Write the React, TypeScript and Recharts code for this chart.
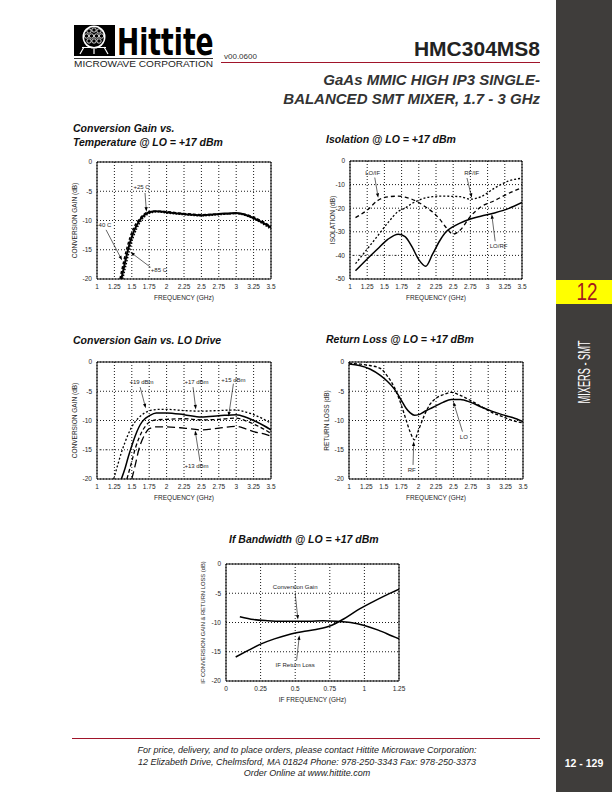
import {
  CartesianGrid,
  Line,
  LineChart,
  ReferenceArea,
  ReferenceDot,
  ReferenceLine,
  XAxis,
  YAxis,
} from "recharts";

const FONT = '"Liberation Sans", Arial, Helvetica, sans-serif';
const INK = "#1e1e1e";

// Conversion Gain vs. Temperature @ LO = +17 dBm
const T25_FREQ = [1.35, 1.4, 1.45, 1.5, 1.55, 1.6, 1.65, 1.7, 1.75, 1.85, 2.0, 2.25, 2.5, 2.75, 3.0, 3.15, 3.25, 3.4, 3.5];
const T25_GAIN = [-20, -17.3, -14.8, -12.8, -11.3, -10.2, -9.4, -8.9, -8.6, -8.4, -8.6, -8.9, -9.1, -8.9, -8.7, -9.1, -9.6, -10.5, -11.2];
const TM40_FREQ = [1.33, 1.38, 1.43, 1.48, 1.53, 1.6, 1.65, 1.7, 1.75, 1.85, 2.0, 2.25, 2.5, 2.75, 3.0, 3.15, 3.25, 3.4, 3.5];
const TM40_GAIN = [-20, -17.2, -14.7, -12.7, -11.2, -9.9, -9.2, -8.7, -8.5, -8.4, -8.5, -8.8, -9.0, -8.9, -8.8, -9.0, -9.4, -10.3, -11.0];
const T85_FREQ = [1.37, 1.42, 1.47, 1.52, 1.57, 1.62, 1.67, 1.72, 1.77, 1.87, 2.0, 2.25, 2.5, 2.75, 3.0, 3.15, 3.25, 3.4, 3.5];
const T85_GAIN = [-20, -17.4, -14.9, -12.9, -11.4, -10.3, -9.5, -9.0, -8.7, -8.5, -8.7, -9.0, -9.2, -9.0, -8.8, -9.2, -9.7, -10.7, -11.5];

// Isolation @ LO = +17 dBm
const ISO_FREQ = [1.08, 1.25, 1.4, 1.55, 1.7, 1.8, 1.9, 2.0, 2.1, 2.2, 2.3, 2.4, 2.5, 2.6, 2.75, 2.9, 3.1, 3.3, 3.5];
const ISO_LO_RF = [-46.5, -41.5, -37.3, -33.2, -31.0, -32.0, -36.3, -41.8, -44.6, -39.5, -34.0, -29.9, -27.8, -26.3, -24.6, -23.4, -22.0, -20.2, -17.6];
const ISO_LO_IF = [-24, -20.8, -16.8, -15.2, -14.9, -15.3, -16.2, -17.6, -19.5, -21.6, -24.5, -28.3, -31.0, -29.3, -23.5, -19.5, -16.8, -13.8, -11.3];
const ISO_RF_IF = [-43.5, -37.3, -31.8, -26.2, -21.4, -20.0, -18.0, -16.6, -15.6, -15.1, -14.9, -14.9, -15.0, -15.1, -16.2, -15.2, -11.5, -8.5, -7.3];

// Conversion Gain vs. LO Drive
const P19_FREQ = [1.24, 1.3, 1.35, 1.4, 1.45, 1.5, 1.55, 1.6, 1.65, 1.7, 1.8, 1.9, 2.0, 2.25, 2.5, 2.75, 3.0, 3.15, 3.25, 3.4, 3.5];
const P19_GAIN = [-20, -17.5, -15.5, -13.8, -12.3, -11.1, -10.2, -9.5, -9.0, -8.6, -8.2, -8.1, -8.1, -8.3, -8.4, -8.3, -8.2, -8.6, -9.0, -9.8, -10.5];
const P17_FREQ = [1.35, 1.4, 1.45, 1.5, 1.55, 1.6, 1.65, 1.7, 1.75, 1.85, 2.0, 2.25, 2.5, 2.75, 3.0, 3.15, 3.25, 3.4, 3.5];
const P17_GAIN = [-20, -18.3, -16.2, -14.3, -12.6, -11.2, -10.2, -9.6, -9.2, -8.7, -8.7, -9.0, -9.4, -9.2, -9.0, -9.5, -10.0, -10.9, -11.6];
const P15_FREQ = [1.43, 1.5, 1.55, 1.6, 1.65, 1.7, 1.75, 1.85, 2.0, 2.25, 2.5, 2.75, 3.0, 3.15, 3.25, 3.4, 3.5];
const P15_GAIN = [-20, -17.0, -14.8, -13.1, -11.8, -10.9, -10.3, -9.9, -9.8, -9.7, -9.9, -9.8, -9.6, -10.1, -10.6, -11.5, -12.2];
const P13_FREQ = [1.5, 1.55, 1.6, 1.65, 1.7, 1.75, 1.85, 2.0, 2.25, 2.5, 2.75, 3.0, 3.15, 3.25, 3.4, 3.5];
const P13_GAIN = [-20, -17.6, -15.0, -13.3, -12.1, -11.4, -11.1, -11.1, -11.3, -11.6, -11.3, -11.0, -11.5, -11.9, -12.3, -12.7];

// Return Loss @ LO = +17 dBm
const RL_FREQ = [1.0, 1.15, 1.3, 1.45, 1.55, 1.65, 1.75, 1.82, 1.88, 1.94, 2.0, 2.08, 2.16, 2.25, 2.35, 2.47, 2.6, 2.75, 2.9, 3.05, 3.2, 3.35, 3.5];
const RL_LO = [-0.35, -0.6, -1.2, -2.3, -3.3, -4.6, -6.5, -7.9, -8.7, -9.1, -9.0, -8.5, -8.0, -7.5, -6.9, -6.4, -6.4, -6.9, -7.7, -8.4, -9.0, -9.5, -10.2];
const RL_RF = [-0.2, -0.35, -0.6, -1.1, -2.4, -4.3, -7.3, -9.9, -12.0, -13.3, -11.6, -9.2, -7.3, -6.2, -5.6, -5.2, -5.7, -6.6, -7.6, -8.6, -9.3, -10.0, -10.4];

// IF Bandwidth @ LO = +17 dBm
const IF_CG_FREQ = [0.1, 0.2, 0.3, 0.4, 0.5, 0.6, 0.7, 0.8, 0.9, 1.0, 1.1, 1.2, 1.25];
const IF_CG = [-9.0, -9.5, -9.7, -9.8, -9.8, -9.8, -9.7, -9.8, -10.0, -10.5, -11.3, -12.3, -12.8];
const IF_RL_FREQ = [0.07, 0.15, 0.25, 0.35, 0.45, 0.55, 0.65, 0.75, 0.85, 0.95, 1.05, 1.15, 1.25];
const IF_RL = [-15.9, -14.9, -13.7, -12.8, -12.1, -11.6, -11.2, -10.6, -9.4, -7.9, -6.6, -5.4, -4.3];

const RF_TICKS = [1, 1.25, 1.5, 1.75, 2, 2.25, 2.5, 2.75, 3, 3.25, 3.5];
const IF_TICKS = [0, 0.25, 0.5, 0.75, 1, 1.25];
const GAIN_TICKS = [-20, -15, -10, -5, 0];
const ISO_TICKS = [-50, -40, -30, -20, -10, 0];

type Series = { name: string; xs: number[]; ys: number[]; dash?: string; width?: number };
type Note = { text: string; x: number; y: number };
type Pointer = { from: [number, number]; to: [number, number] };
type Guide = { x1: number; x2: number; y: number };

const pts = (xs: number[], ys: number[]) => xs.map((x, i) => ({ x, y: ys[i] }));

function ArrowShape(props: any) {
  const { x1, y1, x2, y2 } = props;
  if ([x1, y1, x2, y2].some((v) => typeof v !== "number" || Number.isNaN(v))) return <g />;
  const a = Math.atan2(y2 - y1, x2 - x1);
  const len = 4.5;
  const half = 1.6;
  const bx = x2 - len * Math.cos(a);
  const by = y2 - len * Math.sin(a);
  const p1 = `${bx + half * Math.sin(a)},${by - half * Math.cos(a)}`;
  const p2 = `${bx - half * Math.sin(a)},${by + half * Math.cos(a)}`;
  return (
    <g>
      <line x1={x1} y1={y1} x2={bx} y2={by} stroke="#000" strokeWidth={0.6} />
      <polygon points={`${x2},${y2} ${p1} ${p2}`} fill="#000" />
    </g>
  );
}

interface PanelProps {
  left: number;
  top: number;
  w: number;
  h: number;
  yAxisW: number;
  xDomain: [number, number];
  xTicks: number[];
  yDomain: [number, number];
  yTicks: number[];
  xLabel: string;
  yLabel: string;
  yLabelSize?: number;
  series: Series[];
  notes: Note[];
  pointers: Pointer[];
  guides?: Guide[];
}

const PAD_TOP = 5;
const PAD_RIGHT = 9;
const X_AXIS_H = 24;

function Panel(p: PanelProps) {
  return (
    <div style={{ position: "absolute", left: p.left - p.yAxisW, top: p.top - PAD_TOP, fontFamily: FONT }}>
      <LineChart
        width={p.yAxisW + p.w + PAD_RIGHT}
        height={PAD_TOP + p.h + X_AXIS_H}
        margin={{ top: PAD_TOP, right: PAD_RIGHT, bottom: 0, left: 0 }}
      >
        <CartesianGrid stroke="#000" strokeDasharray="1 2" strokeWidth={0.9} />
        <XAxis
          type="number"
          dataKey="x"
          domain={p.xDomain}
          ticks={p.xTicks}
          interval={0}
          allowDataOverflow
          axisLine={false}
          tickLine={false}
          tickSize={3}
          tickMargin={2}
          height={X_AXIS_H}
          tick={{ fontSize: 6.5, fill: INK }}
          label={{ value: p.xLabel, position: "insideBottom", offset: 3, fontSize: 6.5, fill: INK }}
        />
        <YAxis
          type="number"
          domain={p.yDomain}
          ticks={p.yTicks}
          interval={0}
          allowDataOverflow
          axisLine={false}
          tickLine={false}
          tickSize={3}
          tickMargin={2}
          width={p.yAxisW}
          tick={{ fontSize: 6.5, fill: INK }}
          label={{ value: p.yLabel, angle: -90, position: "center", fontSize: p.yLabelSize ?? 6.5, fill: INK }}
        />
        {(p.guides ?? []).map((g, i) => (
          <ReferenceLine
            key={`g${i}`}
            segment={[{ x: g.x1, y: g.y }, { x: g.x2, y: g.y }]}
            stroke="#9a9a9a"
            strokeDasharray="1 1"
          />
        ))}
        {p.series.map((s) => (
          <Line
            key={s.name}
            name={s.name}
            data={pts(s.xs, s.ys)}
            dataKey="y"
            type="monotone"
            stroke="#000"
            strokeWidth={s.width ?? 1.3}
            strokeDasharray={s.dash}
            dot={false}
            activeDot={false}
            isAnimationActive={false}
          />
        ))}
        <ReferenceArea
          x1={p.xDomain[0]}
          x2={p.xDomain[1]}
          y1={p.yDomain[0]}
          y2={p.yDomain[1]}
          fill="none"
          stroke="#000"
          strokeWidth={1}
        />
        {p.pointers.map((a, i) => (
          <ReferenceLine
            key={`a${i}`}
            segment={[{ x: a.from[0], y: a.from[1] }, { x: a.to[0], y: a.to[1] }]}
            shape={ArrowShape}
          />
        ))}
        {p.notes.map((n) => (
          <ReferenceDot
            key={n.text}
            x={n.x}
            y={n.y}
            r={0}
            shape={(d: any) => (
              <text x={d.cx} y={d.cy} textAnchor="middle" dominantBaseline="central" fontSize={6} fill={INK}>
                {n.text}
              </text>
            )}
          />
        ))}
      </LineChart>
    </div>
  );
}

const TITLE = { fontFamily: FONT, fontSize: 10.5, fontWeight: 700, fontStyle: "italic" as const, fill: "#111" };

function Page() {
  return (
    <svg width={612} height={792} style={{ position: "absolute", left: 0, top: 0 }} fontFamily={FONT}>
      <rect x={0} y={0} width={612} height={792} fill="#fff" />
      {/* logo */}
      <rect x={74} y={25} width={41} height={31} fill="#000" />
      <circle cx={94} cy={37} r={11.5} fill="#fff" />
      <circle cx={94} cy={37} r={10} fill="#000" />
      {[
        [89, 31], [94, 30], [99, 31], [86.5, 36], [91.5, 36], [96.5, 36], [101.5, 36], [89, 41], [94, 41], [99, 41],
      ].map(([cx, cy], i) => (
        <circle key={i} cx={cx} cy={cy} r={2.2} fill="none" stroke="#fff" strokeWidth={0.8} />
      ))}
      <path d="M84 47 L80 54 M104 47 L108 54 M94 48.5 L94 54 M82 47.5 L106 47.5" stroke="#fff" strokeWidth={1.2} fill="none" />
      <text
        x={0}
        y={0}
        transform="translate(117 55) scale(0.7 1)"
        fontFamily='"DejaVu Sans", sans-serif'
        fontWeight={700}
        fontSize={38}
        fill="#000"
      >
        Hittite
      </text>
      <line x1={74} y1={58.5} x2={213} y2={58.5} stroke="#000" strokeWidth={0.8} />
      <text x={74} y={67} fontSize={8.5} textLength={139} lengthAdjust="spacingAndGlyphs" fill="#222">
        MICROWAVE CORPORATION
      </text>
      {/* header */}
      <text x={224} y={59} fontSize={8} fill="#333">v00.0600</text>
      <text x={540} y={56} fontSize={21} fontWeight={700} textAnchor="end" fill="#222">HMC304MS8</text>
      <line x1={221} y1={62.5} x2={540} y2={62.5} stroke="#a0142a" strokeWidth={1.2} />
      <text x={540} y={84.5} fontSize={15} fontWeight={700} fontStyle="italic" textAnchor="end" fill="#333">
        GaAs MMIC HIGH IP3 SINGLE-
      </text>
      <text x={540} y={103.5} fontSize={15} fontWeight={700} fontStyle="italic" textAnchor="end" fill="#333">
        BALANCED SMT MIXER, 1.7 - 3 GHz
      </text>
      {/* chart titles */}
      <text x={73} y={132} {...TITLE}>Conversion Gain vs.</text>
      <text x={73} y={146} {...TITLE}>Temperature @ LO = +17 dBm</text>
      <text x={326} y={143} {...TITLE}>Isolation @ LO = +17 dBm</text>
      <text x={73} y={344} {...TITLE}>Conversion Gain vs. LO Drive</text>
      <text x={326} y={343} {...TITLE}>Return Loss @ LO = +17 dBm</text>
      <text x={229} y={543} {...TITLE}>If Bandwidth @ LO = +17 dBm</text>
      {/* side bar */}
      <rect x={556} y={0} width={56} height={792} fill="#3f3d3b" />
      <rect x={556} y={280} width={56} height={24} fill="#ffff00" />
      <text x={587} y={300} fontSize={23} textAnchor="middle" textLength={21} lengthAdjust="spacingAndGlyphs" fill="#a3181f">
        12
      </text>
      <text
        x={0}
        y={0}
        transform="translate(590 372) rotate(-90)"
        fontSize={17}
        textAnchor="middle"
        textLength={63}
        lengthAdjust="spacingAndGlyphs"
        fill="#fff"
      >
        MIXERS - SMT
      </text>
      <text x={584} y={767} fontSize={10.5} fontWeight={700} textAnchor="middle" fill="#fff">12 - 129</text>
      {/* footer */}
      <line x1={72} y1={738.5} x2={540} y2={738.5} stroke="#a0142a" strokeWidth={1.2} />
      <g fontSize={9} fontStyle="italic" textAnchor="middle" fill="#222">
        <text x={307} y={753}>For price, delivery, and to place orders, please contact Hittite Microwave Corporation:</text>
        <text x={307} y={765}>12 Elizabeth Drive, Chelmsford, MA 01824 Phone: 978-250-3343  Fax: 978-250-3373</text>
        <text x={307} y={776}>Order Online at www.hittite.com</text>
      </g>
    </svg>
  );
}

export default function App() {
  return (
    <div style={{ position: "absolute", left: 0, top: 0, width: 612, height: 792, overflow: "hidden", background: "#fff" }}>
      <Page />
      <Panel
        left={97}
        top={162}
        w={174}
        h={117}
        yAxisW={45}
        xDomain={[1, 3.5]}
        xTicks={RF_TICKS}
        yDomain={[-20, 0]}
        yTicks={GAIN_TICKS}
        xLabel="FREQUENCY (GHz)"
        yLabel="CONVERSION GAIN (dB)"
        series={[
          { name: "-40 C", xs: TM40_FREQ, ys: TM40_GAIN, dash: "3 2", width: 1.5 },
          { name: "+85 C", xs: T85_FREQ, ys: T85_GAIN, dash: "1.5 1.5", width: 1.5 },
          { name: "+25 C", xs: T25_FREQ, ys: T25_GAIN, width: 2 },
        ]}
        notes={[
          { text: "+25 C", x: 1.64, y: -4.3 },
          { text: "-40 C", x: 1.1, y: -10.8 },
          { text: "+85 C", x: 1.89, y: -18.4 },
        ]}
        pointers={[
          { from: [1.69, -5.3], to: [1.71, -8.5] },
          { from: [1.13, -11.6], to: [1.36, -16.8] },
          { from: [1.77, -18.0], to: [1.48, -15.4] },
        ]}
      />
      <Panel
        left={350}
        top={161}
        w={172}
        h={118}
        yAxisW={35}
        xDomain={[1, 3.5]}
        xTicks={RF_TICKS}
        yDomain={[-50, 0]}
        yTicks={ISO_TICKS}
        xLabel="FREQUENCY (GHz)"
        yLabel="ISOLATION (dB)"
        guides={[{ x1: 1, x2: 1.7, y: -40 }]}
        series={[
          { name: "LO/RF", xs: ISO_FREQ, ys: ISO_LO_RF, width: 1.5 },
          { name: "LO/IF", xs: ISO_FREQ, ys: ISO_LO_IF, dash: "4 3", width: 1.3 },
          { name: "RF/IF", xs: ISO_FREQ, ys: ISO_RF_IF, dash: "2 2", width: 1.3 },
        ]}
        notes={[
          { text: "LO/IF", x: 1.33, y: -5 },
          { text: "RF/IF", x: 2.77, y: -5 },
          { text: "LO/RF", x: 3.16, y: -36.2 },
        ]}
        pointers={[
          { from: [1.36, -7], to: [1.41, -15.6] },
          { from: [2.7, -7.2], to: [2.77, -15.6] },
          { from: [3.11, -34], to: [3.06, -22.6] },
        ]}
      />
      <Panel
        left={97}
        top={362}
        w={174}
        h={117}
        yAxisW={44}
        xDomain={[1, 3.5]}
        xTicks={RF_TICKS}
        yDomain={[-20, 0]}
        yTicks={GAIN_TICKS}
        xLabel="FREQUENCY (GHz)"
        yLabel="CONVERSION GAIN (dB)"
        guides={[{ x1: 1, x2: 1.25, y: -15 }]}
        series={[
          { name: "+19 dBm", xs: P19_FREQ, ys: P19_GAIN, dash: "2 2", width: 1.3 },
          { name: "+17 dBm", xs: P17_FREQ, ys: P17_GAIN, width: 1.5 },
          { name: "+15 dBm", xs: P15_FREQ, ys: P15_GAIN, dash: "4 2.5", width: 1.3 },
          { name: "+13 dBm", xs: P13_FREQ, ys: P13_GAIN, dash: "8 4", width: 1.3 },
        ]}
        notes={[
          { text: "+19 dBm", x: 1.64, y: -3.4 },
          { text: "+17 dBm", x: 2.43, y: -3.4 },
          { text: "+15 dBm", x: 2.96, y: -3.0 },
          { text: "+13 dBm", x: 2.43, y: -17.7 },
        ]}
        pointers={[
          { from: [1.62, -4.3], to: [1.7, -7.9] },
          { from: [2.38, -4.3], to: [2.42, -8.1] },
          { from: [2.96, -3.7], to: [2.89, -9.3] },
          { from: [2.48, -17.0], to: [2.41, -11.7] },
        ]}
      />
      <Panel
        left={349}
        top={362}
        w={174}
        h={117}
        yAxisW={44}
        xDomain={[1, 3.5]}
        xTicks={RF_TICKS}
        yDomain={[-20, 0]}
        yTicks={GAIN_TICKS}
        xLabel="FREQUENCY (GHz)"
        yLabel="RETURN LOSS (dB)"
        series={[
          { name: "RF", xs: RL_FREQ, ys: RL_RF, dash: "3 2", width: 1.3 },
          { name: "LO", xs: RL_FREQ, ys: RL_LO, width: 1.5 },
        ]}
        notes={[
          { text: "LO", x: 2.65, y: -12.8 },
          { text: "RF", x: 1.9, y: -18.4 },
        ]}
        pointers={[
          { from: [2.63, -11.9], to: [2.5, -6.8] },
          { from: [1.92, -17.6], to: [1.93, -13.6] },
        ]}
      />
      <Panel
        left={226}
        top={564}
        w={173}
        h={117}
        yAxisW={47}
        xDomain={[0, 1.25]}
        xTicks={IF_TICKS}
        yDomain={[-20, 0]}
        yTicks={GAIN_TICKS}
        xLabel="IF FREQUENCY (GHz)"
        yLabel="IF CONVERSION GAIN & RETURN LOSS (dB)"
        yLabelSize={5.8}
        series={[
          { name: "Conversion Gain", xs: IF_CG_FREQ, ys: IF_CG, width: 1.5 },
          { name: "IF Return Loss", xs: IF_RL_FREQ, ys: IF_RL, width: 1.5 },
        ]}
        notes={[
          { text: "Conversion Gain", x: 0.5, y: -4.0 },
          { text: "IF Return Loss", x: 0.5, y: -17.3 },
        ]}
        pointers={[
          { from: [0.5, -5.1], to: [0.52, -9.5] },
          { from: [0.51, -16.5], to: [0.53, -12.2] },
        ]}
      />
    </div>
  );
}
